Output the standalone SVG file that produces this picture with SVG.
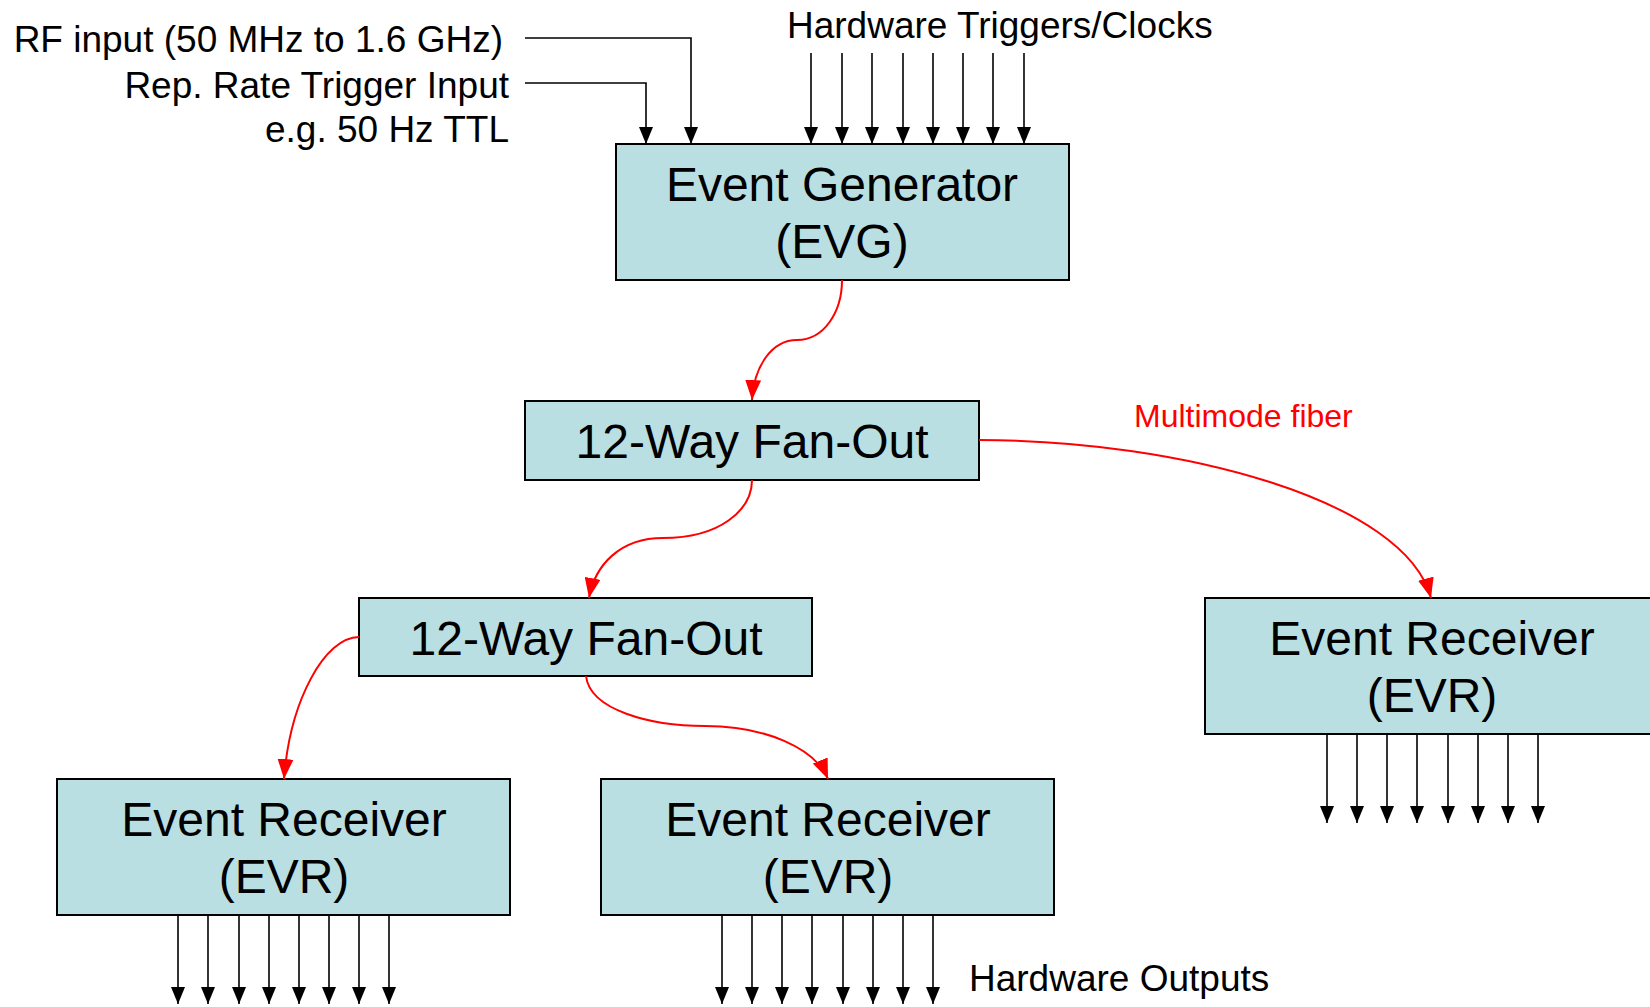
<svg xmlns="http://www.w3.org/2000/svg" width="1650" height="1007" viewBox="0 0 1650 1007">
<style>
.box{fill:#B9DFE3;stroke:#000;stroke-width:2}
.big{font-family:"Liberation Sans",Arial,sans-serif;font-size:48px;fill:#000;text-anchor:middle}
.lbl{font-family:"Liberation Sans",Arial,sans-serif;font-size:37px;fill:#000}
.red{font-family:"Liberation Sans",Arial,sans-serif;font-size:32px;fill:#FF0000}
.blk{stroke:#000;stroke-width:1.6;fill:none;marker-end:url(#ab)}
.fib{stroke:#FF0000;stroke-width:2;fill:none;marker-end:url(#ar)}
</style>
<defs>
<marker id="ab" markerUnits="userSpaceOnUse" markerWidth="17" markerHeight="14" refX="17" refY="7" orient="auto"><path d="M0,0 L17,7 L0,14 z" fill="#000"/></marker>
<marker id="ar" markerUnits="userSpaceOnUse" markerWidth="20" markerHeight="16" refX="20" refY="8" orient="auto"><path d="M0,0 L20,8 L0,16 z" fill="#FF0000"/></marker>
</defs>
<rect width="1650" height="1007" fill="#fff"/>

<g id="labels">
<text class="lbl" x="503" y="52" text-anchor="end">RF input (50 MHz to 1.6 GHz)</text>
<text class="lbl" x="509" y="98" text-anchor="end">Rep. Rate Trigger Input</text>
<text class="lbl" x="509" y="142" text-anchor="end">e.g. 50 Hz TTL</text>
<text class="lbl" x="787" y="38">Hardware Triggers/Clocks</text>
<text class="red" x="1134" y="427">Multimode fiber</text>
<text class="lbl" x="969" y="991">Hardware Outputs</text>
</g>

<g id="evg">
<rect class="box" x="616" y="144" width="453" height="136"/>
<text class="big" x="842" y="201">Event Generator</text>
<text class="big" x="842" y="258">(EVG)</text>
</g>
<g id="fanout1">
<rect class="box" x="525" y="401" width="454" height="79"/>
<text class="big" x="752" y="458">12-Way Fan-Out</text>
</g>
<g id="fanout2">
<rect class="box" x="359" y="598" width="453" height="78"/>
<text class="big" x="586" y="655">12-Way Fan-Out</text>
</g>
<g id="evr-right">
<rect class="box" x="1205" y="598" width="460" height="136"/>
<text class="big" x="1432" y="655">Event Receiver</text>
<text class="big" x="1432" y="712">(EVR)</text>
</g>
<g id="evr-left">
<rect class="box" x="57" y="779" width="453" height="136"/>
<text class="big" x="284" y="836">Event Receiver</text>
<text class="big" x="284" y="893">(EVR)</text>
</g>
<g id="evr-mid">
<rect class="box" x="601" y="779" width="453" height="136"/>
<text class="big" x="828" y="836">Event Receiver</text>
<text class="big" x="828" y="893">(EVR)</text>
</g>

<g id="connectors">
<path class="blk" d="M525,38 H691 V144"/>
<path class="blk" d="M525,83 H646 V144"/>
<path class="blk" d="M811,53 V144"/>
<path class="blk" d="M842,53 V144"/>
<path class="blk" d="M872,53 V144"/>
<path class="blk" d="M903,53 V144"/>
<path class="blk" d="M933,53 V144"/>
<path class="blk" d="M963,53 V144"/>
<path class="blk" d="M993,53 V144"/>
<path class="blk" d="M1024,53 V144"/>

<path class="blk" d="M178,915 V1004"/>
<path class="blk" d="M208,915 V1004"/>
<path class="blk" d="M239,915 V1004"/>
<path class="blk" d="M269,915 V1004"/>
<path class="blk" d="M299,915 V1004"/>
<path class="blk" d="M329,915 V1004"/>
<path class="blk" d="M359,915 V1004"/>
<path class="blk" d="M389,915 V1004"/>

<path class="blk" d="M722,915 V1004"/>
<path class="blk" d="M752,915 V1004"/>
<path class="blk" d="M782,915 V1004"/>
<path class="blk" d="M812,915 V1004"/>
<path class="blk" d="M843,915 V1004"/>
<path class="blk" d="M873,915 V1004"/>
<path class="blk" d="M903,915 V1004"/>
<path class="blk" d="M933,915 V1004"/>

<path class="blk" d="M1327,734 V823"/>
<path class="blk" d="M1357,734 V823"/>
<path class="blk" d="M1387,734 V823"/>
<path class="blk" d="M1417,734 V823"/>
<path class="blk" d="M1448,734 V823"/>
<path class="blk" d="M1478,734 V823"/>
<path class="blk" d="M1508,734 V823"/>
<path class="blk" d="M1538,734 V823"/>

<path class="fib" d="M842,280 C842,312 824,340 797,340 C772,340 754,366 752,400"/>
<path class="fib" d="M752,480 C752,510 720,538 663,538 C620,538 595,565 589,598"/>
<path class="fib" d="M979,440 C1180,440 1405,500 1431,598"/>
<path class="fib" d="M359,637 C325,637 290,700 284,779"/>
<path class="fib" d="M586,676 C590,710 650,726 705,726 C765,726 815,748 828,779"/>
</g>
</svg>
